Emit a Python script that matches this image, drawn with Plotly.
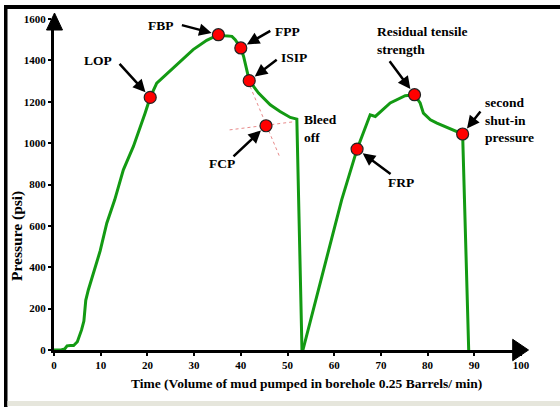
import plotly.graph_objects as go

# ---- data ----
t1 = [0, 1.5, 2.3, 2.8, 3.5, 4.2, 5.0, 5.9, 6.4, 6.8, 7.35, 9.9, 11.3, 13.0, 14.85, 17.0, 19.5, 20.6,
      22.0, 25.5, 29.8, 32.7, 35.2, 36.6, 38.1, 38.8, 40.0, 40.6, 41.3, 41.8, 43.8, 46.3, 48.4, 50.6, 52.0, 53.1]
p1 = [0, 0, 5, 20, 22, 22, 40, 97, 140, 240, 290, 480, 613, 726, 871, 984, 1145, 1221,
      1290, 1363, 1452, 1497, 1524, 1519, 1516, 1500, 1460, 1419, 1355, 1303, 1242, 1185, 1153, 1124, 1116, 0]

t2 = [53.3, 57.5, 61.6, 64.9, 67.7, 68.8, 72.0, 75.2, 76.6, 77.2, 78.4, 79.1, 80.6, 82.0, 87.5, 88.8]
p2 = [0, 370, 726, 971, 1137, 1129, 1194, 1229, 1232, 1234, 1194, 1145, 1113, 1097, 1044, 0]

point_names = ["LOP", "FBP", "FPP", "ISIP", "FCP", "FRP", "RTS", "SSIP"]
point_t = [20.6, 35.2, 40.0, 41.8, 45.4, 64.9, 77.2, 87.5]
point_p = [1221, 1524, 1460, 1302, 1084, 971, 1234, 1044]

tang1_t = [37.6, 51.6]
tang1_p = [1064, 1104]
tang2_t = [42.0, 48.3]
tang2_p = [1274, 935]

x_ticks = list(range(0, 101, 10))
y_ticks = list(range(0, 1601, 200))

# label texts and positions (data coords)
label_text = ["LOP", "FBP", "FPP", "ISIP", "FCP", "FRP"]
label_t = [9.4, 22.9, 49.9, 51.3, 35.9, 74.4]
label_p = [1398, 1571, 1542, 1416, 902, 809]

# arrow tail offsets in pixels relative to each point
arrow_ax = [-32, -38, 31, 29, -34, 35, -26, 19]
arrow_ay = [-35, -10, -18, -22, 32, 26, -35, -24]

W, H = 560, 407
L, R, T, B = 54, 39, 19, 57
pw, ph = W - L - R, H - T - B

def px(x):
    return (x - L) / pw

def py(y):
    return (H - B - y) / ph

SERIF = "Liberation Serif"
GREEN = "#139a13"

fig = go.Figure()

for tt, pp in [(tang1_t, tang1_p), (tang2_t, tang2_p)]:
    fig.add_trace(go.Scatter(x=tt, y=pp, mode="lines",
                             line=dict(color="#e88a8a", width=1, dash="dot"),
                             hoverinfo="skip", showlegend=False))

for tt, pp in [(t1, p1), (t2, p2)]:
    fig.add_trace(go.Scatter(x=tt, y=pp, mode="lines",
                             line=dict(color=GREEN, width=3),
                             showlegend=False, cliponaxis=False))

fig.add_trace(go.Scatter(x=point_t, y=point_p, mode="markers", text=point_names,
                         marker=dict(color="#ff0000", size=12, line=dict(color="#222", width=1.2)),
                         showlegend=False, cliponaxis=False))

for i in range(len(point_t)):
    fig.add_annotation(x=point_t[i], y=point_p[i], text="", showarrow=True,
                       ax=arrow_ax[i], ay=arrow_ay[i], arrowhead=2, arrowsize=1,
                       arrowwidth=2.5, arrowcolor="black", standoff=7)

lab_font = dict(family=SERIF, size=13.5, color="black", weight="bold")
for txt, xx, yy in zip(label_text, label_t, label_p):
    fig.add_annotation(x=xx, y=yy, text=txt, showarrow=False, font=lab_font,
                       xanchor="center", yanchor="middle")

fig.add_annotation(x=53.0, y=1071, text="Bleed<br>off", showarrow=False, font=lab_font,
                   xanchor="left", yanchor="middle", align="left")
fig.add_annotation(x=68.7, y=1496, text="Residual tensile<br>strength", showarrow=False,
                   font=lab_font, xanchor="left", yanchor="middle", align="left")
fig.add_annotation(x=91.9, y=1112, text="second<br>shut-in<br>pressure", showarrow=False,
                   font=lab_font, xanchor="left", yanchor="middle", align="left")

# axis titles
fig.add_annotation(xref="paper", yref="paper", x=px(306), y=py(383),
                   xanchor="center", yanchor="middle",
                   text="Time (Volume of mud pumped in borehole 0.25 Barrels/ min)",
                   showarrow=False, font=dict(family=SERIF, size=13.5, color="black", weight="bold"))
fig.add_annotation(xref="paper", yref="paper", x=px(17), y=py(236), textangle=-90,
                   xanchor="center", yanchor="middle",
                   text="Pressure (psi)", showarrow=False,
                   font=dict(family=SERIF, size=15.5, color="black", weight="bold"))

# axis arrowheads
fig.add_shape(type="path", xref="paper", yref="paper",
              path=f"M {px(46.5)} {py(30)} L {px(54.5)} {py(13)} L {px(62.5)} {py(30)} Z",
              fillcolor="black", line=dict(color="black", width=1))
fig.add_shape(type="path", xref="paper", yref="paper",
              path=f"M {px(512.7)} {py(339.3)} L {px(528.5)} {py(350)} L {px(512.7)} {py(360.7)} Z",
              fillcolor="black", line=dict(color="black", width=1))

# frame decorations
fig.add_shape(type="rect", xref="paper", yref="paper", x0=px(4), x1=px(560), y0=py(9), y1=py(5),
              fillcolor="black", line=dict(width=0))
fig.add_shape(type="rect", xref="paper", yref="paper", x0=px(4), x1=px(7.5), y0=py(407), y1=py(5),
              fillcolor="black", line=dict(width=0))
fig.add_shape(type="rect", xref="paper", yref="paper", x0=px(7.5), x1=px(560), y0=py(406), y1=py(401),
              fillcolor="#e6e6dc", line=dict(width=0))

tick_font = dict(family=SERIF, size=11, color="black", weight="bold")
fig.update_layout(
    width=W, height=H,
    margin=dict(l=L, r=R, t=T, b=B),
    paper_bgcolor="white", plot_bgcolor="white",
    xaxis=dict(range=[0, 100], tickvals=x_ticks, showgrid=False, zeroline=False,
               showline=True, linewidth=3, linecolor="black",
               ticks="outside", ticklen=3, tickwidth=2, tickcolor="black",
               tickfont=tick_font),
    yaxis=dict(range=[0, 1600], tickvals=y_ticks, showgrid=False, zeroline=False,
               showline=True, linewidth=3, linecolor="black",
               ticks="outside", ticklen=3, tickwidth=2, tickcolor="black",
               tickfont=tick_font),
)

fig.write_html("out.html", config={"displayModeBar": False},
               post_script="document.body.style.margin='0';document.body.style.padding='0';document.body.style.overflow='hidden';")
